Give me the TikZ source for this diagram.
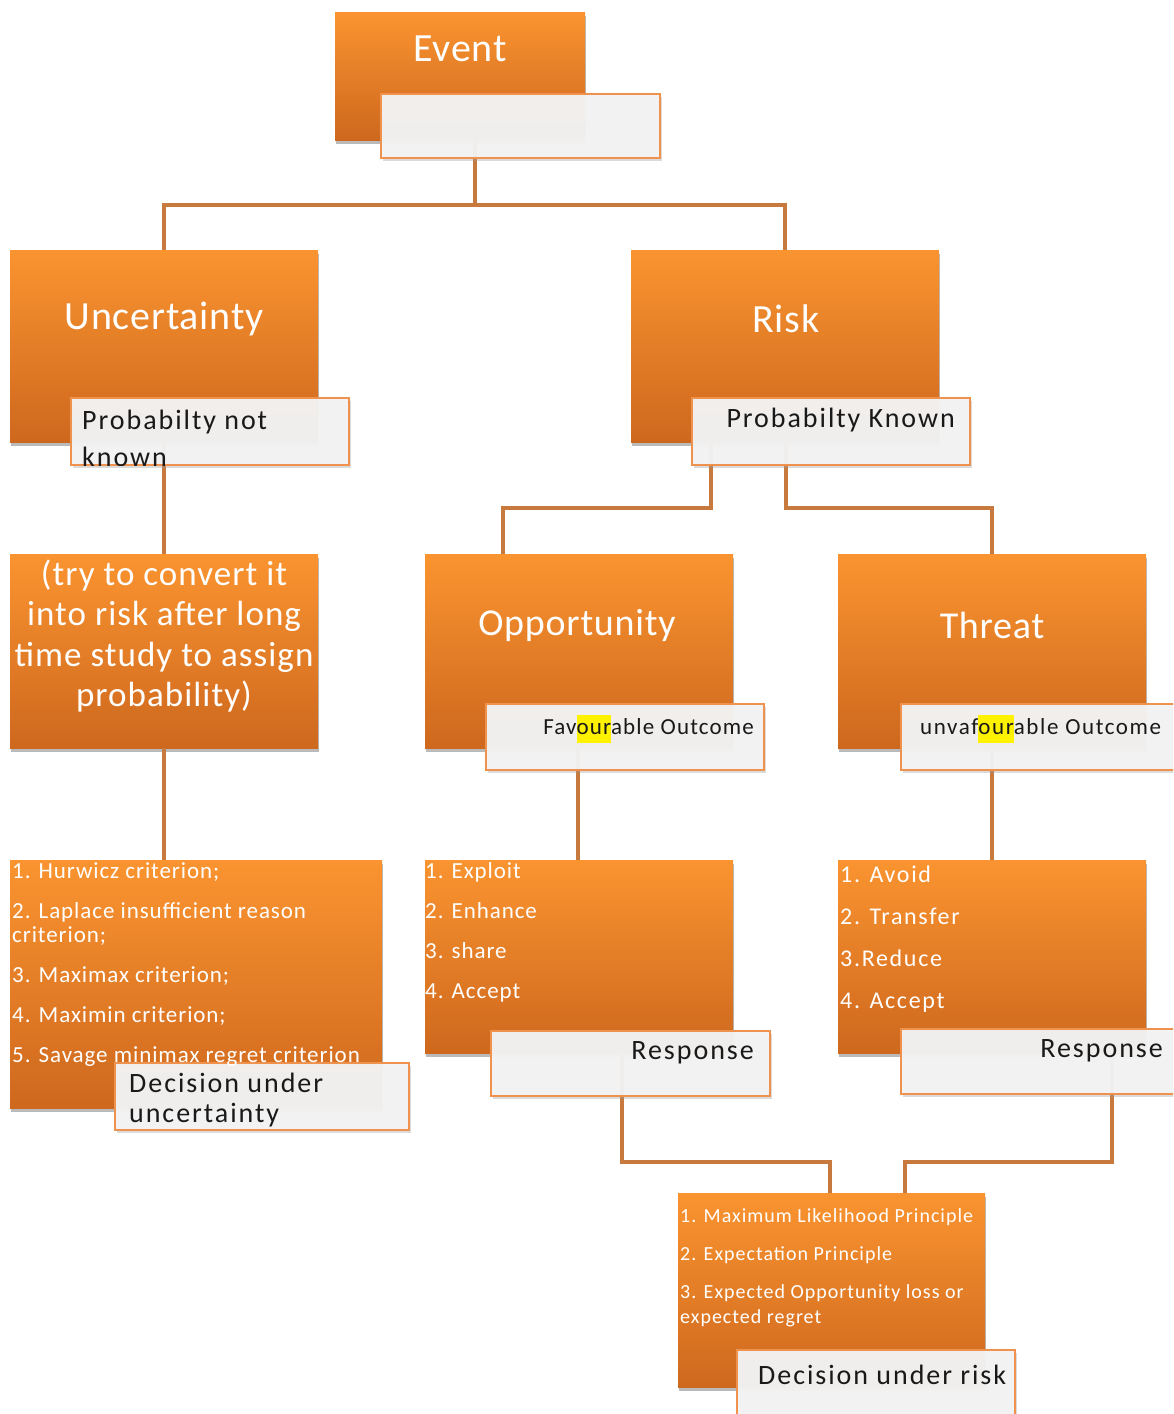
\documentclass[tikz,border=0pt]{standalone}
\usepackage{fontspec}
\setmainfont{Carlito}
\usetikzlibrary{shadows}
\definecolor{otop}{RGB}{250,148,48}
\definecolor{obot}{RGB}{206,104,30}
\definecolor{lborder}{RGB}{238,146,78}
\definecolor{lfill}{RGB}{243,243,243}
\definecolor{conn}{RGB}{200,122,62}
\definecolor{ltxt}{RGB}{25,25,25}
\newcommand{\hlour}[1]{{\setlength{\fboxsep}{0pt}\colorbox{yellow}{\strut #1}}}
\newcommand{\fs}[3]{\fontsize{#1}{#2}\selectfont\addfontfeature{LetterSpace=#3}}
\begin{document}
\begin{tikzpicture}[x=1pt,y=-1pt,
  obox/.style={anchor=north west, inner sep=0pt, outer sep=0pt, top color=otop, bottom color=obot, draw=none,
    drop shadow={shadow xshift=1pt, shadow yshift=-4pt, fill=black!45, opacity=.6}},
  lbox/.style={anchor=north west, inner sep=0pt, outer sep=0pt, fill=lfill, fill opacity=.96, draw=lborder, draw opacity=1, line width=1.6pt,
    drop shadow={shadow xshift=2pt, shadow yshift=-3pt, fill=black!40, opacity=.35}},
  conn/.style={draw=conn, line width=4pt},
  title/.style={text=white, inner sep=0pt, font=\fs{40}{48}{2}},
  ltext/.style={text=ltxt, inner sep=0pt, font=\fs{28}{33}{7}},
  list/.style={text=white, anchor=north west, align=left, inner sep=0pt}]
\useasboundingbox (0,0) rectangle (1173,1414);
\clip (0,0) rectangle (1173,1414);
\fill[white] (0,0) rectangle (1173,1414);

% junction coordinates
\coordinate (j0) at (475,205);
\coordinate (j1) at (711,508);
\coordinate (j1b) at (503,508);
\coordinate (j2) at (786,508);
\coordinate (j3) at (622,1162);
\coordinate (j3b) at (830,1162);
\coordinate (j4) at (1112,1162);
\coordinate (j4b) at (905,1162);
\coordinate (oc) at (578,760);

% orange boxes
\node[obox, minimum width=250pt, minimum height=128pt] (ev) at (335,12) {};
\node[obox, minimum width=308pt, minimum height=192pt] (unc) at (10,250) {};
\node[obox, minimum width=308pt, minimum height=192pt] (risk) at (631,250) {};
\node[obox, minimum width=308pt, minimum height=194pt] (conv) at (10,554) {};
\node[obox, minimum width=308pt, minimum height=194pt] (opp) at (425,554) {};
\node[obox, minimum width=308pt, minimum height=194pt] (thr) at (838,554) {};
\node[obox, minimum width=372pt, minimum height=248pt] (ulist) at (10,860) {};
\node[obox, minimum width=308pt, minimum height=193pt] (olist) at (425,860) {};
\node[obox, minimum width=308pt, minimum height=193pt] (tlist) at (838,860) {};
\node[obox, minimum width=307pt, minimum height=194pt] (dec) at (678,1193) {};

% connectors
\draw[conn] (j0 |- ev.south) -- (j0);
\draw[conn] (unc.north) |- (j0) -| (risk.north);
\draw[conn] (j1 |- risk.south) -- (j1) -- (j1b) -- (j1b |- opp.north);
\draw[conn] (j2 |- risk.south) -- (j2) -| (thr.north);
\draw[conn] (unc.south) -- (conv.north);
\draw[conn] (conv.south) -- (conv.south |- ulist.north);
\draw[conn] (oc |- opp.south) -- (oc |- olist.north);
\draw[conn] (thr.south) -- (tlist.north);
\draw[conn] (j3 |- olist.south) -- (j3) -- (j3b) -- (j3b |- dec.north);
\draw[conn] (j4 |- tlist.south) -- (j4) -- (j4b) -- (j4b |- dec.north);

% labels
\node[lbox, minimum width=279pt, minimum height=64pt] (evl) at (381,94) {};
\node[lbox, minimum width=278pt, minimum height=67pt] (uncl) at (71,398) {};
\node[lbox, minimum width=278pt, minimum height=67pt] (riskl) at (692,398) {};
\node[lbox, minimum width=278pt, minimum height=66pt] (oppl) at (486,704) {};
\node[lbox, minimum width=290pt, minimum height=66pt] (thrl) at (901,704) {};
\node[lbox, minimum width=294pt, minimum height=67pt] (ulistl) at (115,1063) {};
\node[lbox, minimum width=279pt, minimum height=65pt] (olistl) at (491,1031) {};
\node[lbox, minimum width=290pt, minimum height=65pt] (tlistl) at (901,1029) {};
\node[lbox, minimum width=278pt, minimum height=80pt] (decl) at (737,1350) {};

% titles
\node[title] (tev) at (460,49) {Event};
\node[title] (tunc) at (164,319) {Uncertainty};
\node[title] (trisk) at (786,319) {Risk};
\node[title, font=\fs{38}{46}{2}] (topp) at (577,625) {Opportunity};
\node[title, font=\fs{38}{46}{2}] (tthr) at (992,625) {Threat};
\node[text=white, align=center, inner sep=0pt, font=\fs{35}{40.5}{3}] (tconv) at (164,636)
  {(try to convert it\\into risk after long\\time study to assign\\probability)};

% label texts
\begin{scope}
\clip (uncl.north west) rectangle (uncl.south east);
\node[ltext, anchor=north west, align=left, font=\fs{28}{37}{7}] (tuncl) at (82,410) {Probabilty not\\known};
\end{scope}
\node[ltext, anchor=east] (triskl) at (955,420) {Probabilty Known};
\node[ltext, anchor=east, font=\fs{23}{28}{5}] (toppl) at (754,729) {Fav\hlour{our}able Outcome};
\node[ltext, anchor=west, font=\fs{23}{28}{7}] (tthrl) at (920,729) {unvaf\hlour{our}able Outcome};
\begin{scope}
\clip (ulistl.north west) rectangle (ulistl.south east);
\node[ltext, anchor=north west, align=left, font=\fs{28}{30}{7}] (tulistl) at (129,1073) {Decision under\\uncertainty};
\end{scope}
\node[ltext, anchor=east] (tolistl) at (754,1053) {Response};
\node[ltext, anchor=east] (ttlistl) at (1163,1051) {Response};
\node[ltext, anchor=west] (tdecl) at (758,1375) {Decision under risk};

% lists
\node[list, font=\fs{23}{24}{4}] (tulist) at (12,862)
  {1. Hurwicz criterion;\\[16pt]2. Laplace insufficient reason\\criterion;\\[16pt]3. Maximax criterion;\\[16pt]4. Maximin criterion;\\[16pt]5. Savage minimax regret criterion};
\node[list, font=\fs{23}{24}{4}] (tolist) at (425,862)
  {1. Exploit\\[16pt]2. Enhance\\[16pt]3. share\\[16pt]4. Accept};
\node[list, font=\fs{24}{24}{7}] (ttlist) at (840,866)
  {1. Avoid\\[18pt]2. Transfer\\[18pt]3.Reduce\\[18pt]4. Accept};
\node[list, font=\fs{20}{25}{5}] (tdec) at (680,1208)
  {1. Maximum Likelihood Principle\\[13pt]2. Expectation Principle\\[13pt]3. Expected Opportunity loss or\\expected regret};
\end{tikzpicture}
\end{document}
